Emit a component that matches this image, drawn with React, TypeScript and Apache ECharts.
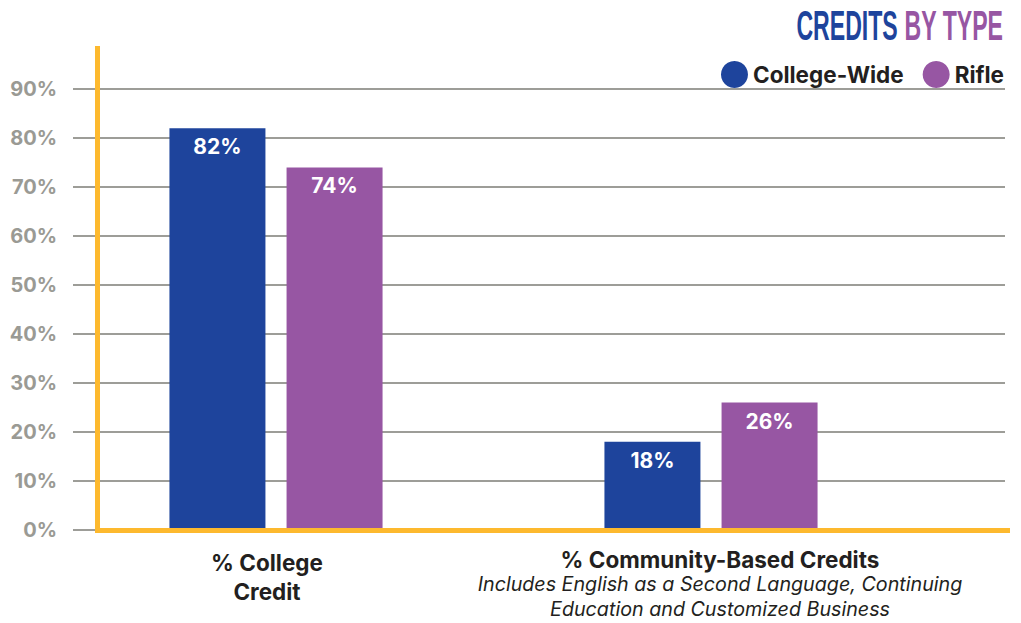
import React, { useEffect, useRef } from "react";
import * as echarts from "echarts";

const categories = ["% College\nCredit", "% Community-Based Credits"];
const categoryNotes = [
  "",
  "Includes English as a Second Language, Continuing\nEducation and Customized Business",
];
const seriesNames = ["College-Wide", "Rifle"];
const collegeWide = [82, 18];
const rifle = [74, 26];
const yMin = 0;
const yMax = 90;
const yStep = 10;
const titleParts = ["CREDITS", "BY TYPE"];

const BLUE = "#1E449C";
const PURPLE = "#9756A3";
const YELLOW = "#FDB92E";
const FONT = "Inter";

export default function App() {
  const ref = useRef<HTMLDivElement>(null);
  useEffect(() => {
    if (!ref.current) return;
    const chart = echarts.init(ref.current, undefined, { renderer: "svg" });
    const labelFormatter = (value: string, idx: number) => {
      const note = categoryNotes[idx];
      if (!note) {
        return value
          .split("\n")
          .map((l) => `{a|${l}}`)
          .join("\n");
      }
      return [
        ...value.split("\n").map((l) => `{b|${l}}`),
        ...note.split("\n").map((l) => `{c|${l}}`),
      ].join("\n");
    };
    chart.setOption({
      animation: false,
      textStyle: { fontFamily: FONT },
      grid: [
        { left: 73, right: 16, top: 89, bottom: 93 },
        { left: 58.5, right: 92.5, top: 89, bottom: 93 },
        { left: 40.5, right: 74.5, top: 89, bottom: 93 },
      ],
      xAxis: [
        { gridIndex: 0, type: "category", data: categories, show: false },
        {
          gridIndex: 1,
          type: "category",
          data: categories,
          axisLine: { show: false },
          axisTick: { show: false },
          axisLabel: { show: false },
        },
        {
          gridIndex: 2,
          type: "category",
          data: categories,
          axisLine: { show: false },
          axisTick: { show: false },
          axisLabel: {
            margin: 18,
            formatter: labelFormatter,
            rich: {
              a: { fontFamily: FONT, fontSize: 22.5, fontWeight: "bold", color: "#231F20", lineHeight: 29 },
              b: { fontFamily: FONT, fontSize: 22.5, fontWeight: "bold", color: "#231F20", lineHeight: 23 },
              c: { fontFamily: FONT, fontSize: 19.7, fontStyle: "italic", color: "#231F20", lineHeight: 25 },
            },
          },
        },
      ],
      yAxis: [
        {
          gridIndex: 0,
          type: "value",
          min: yMin,
          max: yMax,
          interval: yStep,
          axisLine: { show: false },
          axisTick: { show: false },
          axisLabel: {
            formatter: "{value}%",
            color: "#9A9A94",
            fontSize: 20,
            fontWeight: "bold",
            fontFamily: FONT,
            margin: 16,
          },
          splitLine: { lineStyle: { color: "#9D9D98", width: 2 } },
        },
        { gridIndex: 1, type: "value", min: yMin, max: yMax, show: false },
        { gridIndex: 2, type: "value", min: yMin, max: yMax, show: false },
      ],
      legend: {
        data: seriesNames,
        right: 12,
        top: 56,
        icon: "circle",
        itemWidth: 27,
        itemHeight: 27,
        itemGap: 19,
        textStyle: { fontSize: 22.5, fontWeight: "bold", color: "#231F20", fontFamily: FONT },
      },
      series: [
        { name: seriesNames[0], data: collegeWide, color: BLUE },
        { name: seriesNames[1], data: rifle, color: PURPLE },
      ].map((s) => ({
        ...s,
        type: "bar",
        xAxisIndex: 1,
        yAxisIndex: 1,
        barWidth: 96,
        barGap: "22%",
        itemStyle: { color: s.color },
        label: {
          show: true,
          position: "insideTop",
          distance: 8,
          color: "#fff",
          fontSize: 21,
          fontWeight: "bold",
          fontFamily: FONT,
          formatter: "{c}%",
        },
      })),
      graphic: [
        {
          type: "line",
          shape: { x1: 97.5, y1: 46, x2: 97.5, y2: 533 },
          style: { stroke: YELLOW, lineWidth: 5 },
          z: 10,
        },
        {
          type: "line",
          shape: { x1: 95, y1: 530.5, x2: 1010, y2: 530.5 },
          style: { stroke: YELLOW, lineWidth: 5 },
          z: 10,
        },
        {
          type: "group",
          x: 1003,
          y: 25,
          scaleX: 0.55,
          children: [
            {
              type: "text",
              x: 0,
              y: 0,
              style: {
                text: `{p|${titleParts[0]}} {q|${titleParts[1]}}`,
                textAlign: "right",
                textVerticalAlign: "middle",
                rich: {
                  p: { fontFamily: "Liberation Sans", fontWeight: "bold", fontSize: 42, fill: BLUE },
                  q: { fontFamily: "Liberation Sans", fontWeight: "bold", fontSize: 42, fill: PURPLE },
                },
                fontFamily: "Liberation Sans",
                fontWeight: "bold",
                fontSize: 42,
              },
            },
          ],
        },
      ],
    });
    return () => chart.dispose();
  }, []);
  return (
    <div
      ref={ref}
      style={{ position: "fixed", left: 0, top: 0, width: 1021, height: 623, background: "#fff" }}
    />
  );
}
